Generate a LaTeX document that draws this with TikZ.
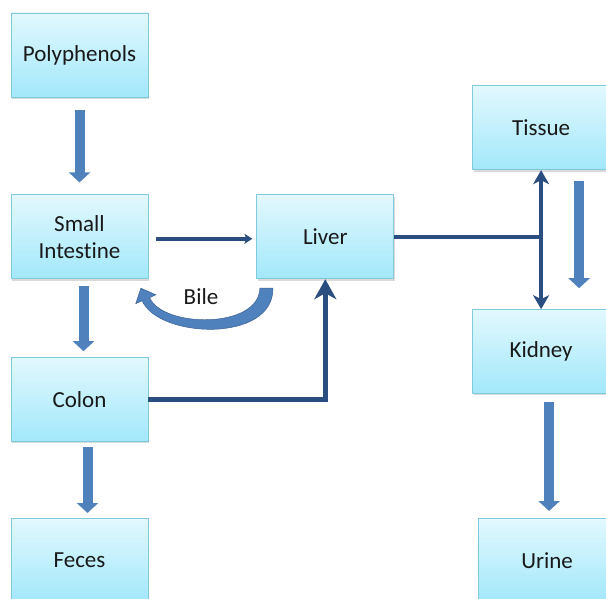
\documentclass[tikz,border=0pt]{standalone}
\usepackage{fontspec}
\setmainfont[Ligatures=NoCommon]{Carlito}
\usetikzlibrary{positioning, arrows.meta, shadows}

\definecolor{boxtop}{RGB}{226,248,254}
\definecolor{boxbottom}{RGB}{162,232,250}
\definecolor{boxedge}{RGB}{128,202,222}
\definecolor{arrowfill}{RGB}{79,129,189}
\definecolor{arrowedge}{RGB}{60,98,146}
\definecolor{linkblue}{RGB}{42,78,128}
\definecolor{inktext}{RGB}{25,25,25}

\begin{document}
\begin{tikzpicture}[x=1pt, y=-1pt,
organ/.style={rectangle, draw=boxedge, line width=0.8pt, top color=boxtop, bottom color=boxbottom,
  minimum width=137pt, minimum height=84pt, align=center, text=inktext,
  font=\fontsize{23}{27}\selectfont,
  drop shadow={shadow xshift=1.2pt, shadow yshift=-1.8pt, opacity=0.3}},
fatarrow/.style={draw=arrowfill, line width=10pt, -{Triangle[width=21pt,length=10pt]}},
link/.style={draw=linkblue, line width=4pt},
]
\useasboundingbox (0,0) rectangle (606,599);
\clip (0,0) rectangle (606,599);

\node[organ]      (poly)   at (79.5,55)                    {Polyphenols};
\node[organ]      (si)     [below=97pt of poly]            {Small\\Intestine};
\node[organ]      (colon)  [below=78pt of si]              {Colon};
\node[organ]      (feces)  [below=76pt of colon]           {Feces};
\node[organ]      (liver)  [right=108pt of si]             {Liver};
\node[organ]      (tissue) [yshift=109pt, right=78pt of liver] {Tissue};
\node[organ]      (kidney) [below=139pt of tissue]         {Kidney};
\node[organ]      (urine)  [xshift=6pt, below=124pt of kidney] {Urine};

\coordinate (hub) at (tissue.south |- liver.east);

% block arrows down the columns
\draw[fatarrow, shorten <=13pt, shorten >=12pt] (poly) -- (si);
\draw[fatarrow, shorten <=7pt, shorten >=6pt] ([xshift=4pt]si.south) -- ([xshift=4pt]colon.north);
\draw[fatarrow, shorten <=5pt, shorten >=5pt] ([xshift=8pt]colon.south) -- ([xshift=8pt]feces.north);
\draw[fatarrow, shorten <=11pt, shorten >=21pt] ([xshift=38pt]tissue.south) -- ([xshift=38pt]kidney.north);
\draw[fatarrow, shorten <=8pt, shorten >=7pt] ([xshift=8pt]kidney.south) -- ([xshift=2pt]urine.north);

% absorption and transport
\draw[link, -{Stealth[width=10pt,length=8pt,inset=2pt]}, shorten <=8pt, shorten >=4pt]
  ([yshift=-2pt]si.east) -- ([yshift=-2pt]liver.west);
\draw[link, line width=5.5pt, -{Stealth[width=22pt,length=20pt,inset=6pt]}] (colon.east) -| (liver.south);
\draw[link] (liver.east) -- (hub);
\draw[link, {Stealth[width=16pt,length=14pt,inset=4pt]}-{Stealth[width=16pt,length=14pt,inset=4pt]}]
  (tissue) -- (kidney);

% bile back to the small intestine
\begin{scope}[shift={(liver.south west)}]
\fill[arrowfill, draw=arrowedge, line width=0.5pt]
  (3.5,9) -- (16.5,9) .. controls (17.5,64) and (-97.8,59.3) .. (-114.2,21.6)
  -- (-120.6,24.4) -- (-115.5,9) -- (-100.5,15.6) -- (-106.8,18.4)
  .. controls (-93.6,48.8) and (2.5,50) .. (3.5,9) -- cycle;
\end{scope}
\node[text=inktext, font=\fontsize{23}{27}\selectfont] (bile) at (201,297) {Bile};

\end{tikzpicture}
\end{document}
